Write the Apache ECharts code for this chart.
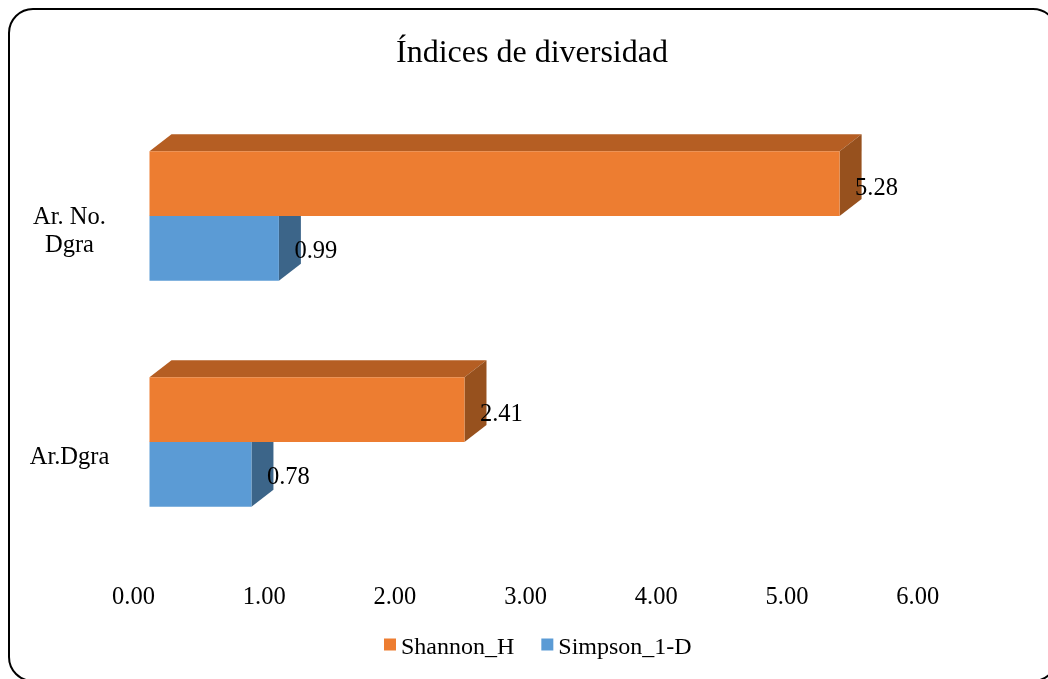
<!DOCTYPE html>
<html>
<head>
<meta charset="utf-8">
<style>html,body{margin:0;padding:0;background:#fff}#c{width:1048px;height:679px}</style>
<script src="https://cdn.jsdelivr.net/npm/echarts@6/dist/echarts.min.js"></script>
</head>
<body>
<div id="c"></div>
<script>
const categories = ['Ar.Dgra', 'Ar. No.\nDgra'];
const shannonH = [2.41, 5.28];
const simpson1D = [0.78, 0.99];
const xTicks = { min: 0, max: 6, interval: 1 };

const FONT = '"Liberation Serif", serif';
const DX = 22, DY = -17, LIFT = 16;

function bar3d(front, top, side, placeAbove, labelDy) {
  return function (params, api) {
    const value = api.value(0);
    const cat = api.value(1);
    const end = api.coord([value, cat]);
    const start = api.coord([0, cat]);
    const h = api.size([0, 1])[1] * 0.2865;
    const yc = end[1] - LIFT;
    const y0 = placeAbove ? yc - h : yc;
    const y1 = y0 + h;
    const x0 = start[0], x1 = end[0];
    return {
      type: 'group',
      children: [
        { type: 'polygon', shape: { points: [[x0, y0], [x0 + DX, y0 + DY], [x1 + DX, y0 + DY], [x1, y0]] }, style: { fill: top } },
        { type: 'polygon', shape: { points: [[x1, y0], [x1 + DX, y0 + DY], [x1 + DX, y1 + DY], [x1, y1]] }, style: { fill: side } },
        { type: 'rect', shape: { x: x0, y: y0, width: x1 - x0, height: h }, style: { fill: front } },
        { type: 'text', z2: 10, x: x1 + 15.5, y: (y0 + y1) / 2 + labelDy,
          style: { text: value.toFixed(2), fill: '#000', font: '24.5px ' + FONT, textAlign: 'left', textVerticalAlign: 'middle' } }
      ]
    };
  };
}

const chart = echarts.init(document.getElementById('c'), null, { renderer: 'canvas' });
chart.setOption({
  animation: false,
  backgroundColor: '#fff',
  title: {
    text: 'Índices de diversidad',
    left: 527, top: 33, textAlign: 'center',
    textStyle: { fontFamily: FONT, fontSize: 32, fontWeight: 'normal', color: '#000' }
  },
  legend: {
    left: 379, top: 631,
    itemWidth: 12, itemHeight: 12, itemGap: 27, icon: 'rect',
    formatter: name => '{t|' + name + '}',
    textStyle: {
      color: '#000',
      rich: { t: { fontFamily: FONT, fontSize: 24, color: '#000', padding: [7, 0, 0, 0] } }
    },
    data: ['Shannon_H', 'Simpson_1-D']
  },
  graphic: [{
    type: 'rect', silent: true, z: -1,
    shape: { x: 9, y: 9, width: 1048, height: 672, r: 24 },
    style: { fill: 'none', stroke: '#000', lineWidth: 2 }
  }],
  grid: { left: 149.5, top: 119, width: 784.2, height: 452, containLabel: false },
  xAxis: {
    type: 'value', min: xTicks.min, max: xTicks.max, interval: xTicks.interval,
    axisLine: { show: false }, axisTick: { show: false }, splitLine: { show: false },
    axisLabel: {
      formatter: v => v.toFixed(2), margin: 14, padding: [0, 32, 0, 0],
      fontFamily: FONT, fontSize: 24.5, color: '#000'
    }
  },
  yAxis: {
    type: 'category', data: categories,
    axisLine: { show: false }, axisTick: { show: false }, splitLine: { show: false },
    axisLabel: {
      margin: 80, align: 'center', lineHeight: 28,
      fontFamily: FONT, fontSize: 24.5, color: '#000'
    }
  },
  series: [
    {
      name: 'Shannon_H', type: 'custom', z: 3, clip: false,
      itemStyle: { color: '#ED7D31' },
      encode: { x: 0, y: 1 },
      data: shannonH.map((v, i) => [v, i]),
      renderItem: bar3d('#ED7D31', '#B55E23', '#97511E', true, 5)
    },
    {
      name: 'Simpson_1-D', type: 'custom', z: 2, clip: false,
      itemStyle: { color: '#5B9BD5' },
      encode: { x: 0, y: 1 },
      data: simpson1D.map((v, i) => [v, i]),
      renderItem: bar3d('#5B9BD5', '#44749F', '#3C6589', false, 3.5)
    }
  ]
});
</script>
</body>
</html>
